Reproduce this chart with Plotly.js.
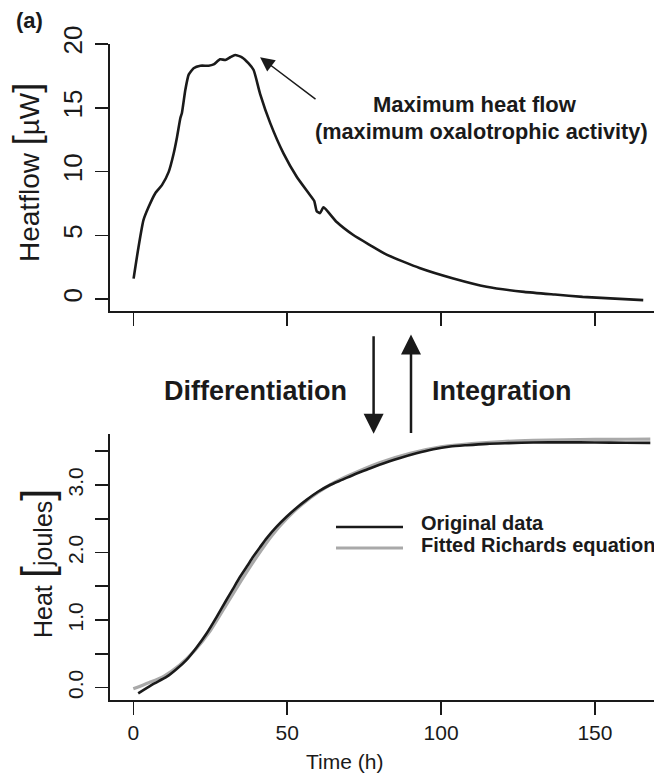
<!DOCTYPE html>
<html>
<head>
<meta charset="utf-8">
<script src="https://cdn.plot.ly/plotly-3.0.1.min.js"></script>
<style>
  html, body { margin: 0; padding: 0; background: #ffffff; }
  #chart { width: 654px; height: 774px; }
</style>
</head>
<body>
<div id="chart"></div>
<script>
// ---- Data ----
// Top panel: heat flow (µW) vs time (h)
const timeHeatflow = [0.1, 1.7, 3.3, 5.0, 7.1, 9.3, 11.5, 13.1, 14.2, 15.3, 15.8, 16.9, 18.0, 19.6, 21.8, 24.5, 26.1, 28.2, 29.9, 31.5, 33.1, 35.3, 37.4, 39.1, 41.2, 44.5, 48.8, 53.1, 57.0, 58.8, 59.6, 60.7, 61.8, 66.1, 71.5, 76.9, 82.3, 93, 104, 114.8, 127, 137, 146, 155, 165.7];
const heatflow     = [1.62, 4.1, 6.2, 7.24, 8.29, 8.94, 9.98, 11.4, 12.7, 14.2, 14.6, 16.4, 17.6, 18.1, 18.3, 18.3, 18.4, 18.8, 18.75, 18.96, 19.14, 18.96, 18.5, 17.96, 16.1, 13.8, 11.43, 9.6, 8.3, 7.7, 6.9, 6.75, 7.2, 6.05, 5.03, 4.25, 3.5, 2.45, 1.63, 0.98, 0.58, 0.37, 0.19, 0.07, -0.07];

// Bottom panel: cumulative heat (J) vs time (h)
const timeOriginal = [1.6, 6.0, 10.9, 14.0, 17.3, 20.5, 23.8, 27.0, 30.3, 32.5, 34.7, 37.0, 39.0, 41.2, 43.3, 46.5, 49.8, 53.0, 56.3, 60.0, 63.9, 68, 72, 76, 80, 86.7, 92, 97.5, 103, 108.3, 115, 122, 130, 140, 150, 160, 168];
const heatOriginal = [-0.086, 0.04, 0.16, 0.27, 0.41, 0.59, 0.80, 1.04, 1.30, 1.47, 1.64, 1.80, 1.94, 2.08, 2.21, 2.38, 2.53, 2.66, 2.78, 2.90, 3.00, 3.08, 3.16, 3.23, 3.30, 3.40, 3.47, 3.53, 3.57, 3.59, 3.61, 3.62, 3.63, 3.632, 3.63, 3.627, 3.625];

const timeFitted = [0, 5, 10, 15, 20, 25, 30, 35, 40, 45, 50, 55, 60, 65, 70, 80, 90, 100, 110, 120, 130, 140, 150, 160, 168];
const heatFitted = [-0.02, 0.07, 0.17, 0.33, 0.55, 0.84, 1.21, 1.58, 1.93, 2.25, 2.51, 2.72, 2.89, 3.03, 3.14, 3.33, 3.47, 3.565, 3.615, 3.645, 3.66, 3.67, 3.675, 3.678, 3.68];

// Tick labels
const timeTicks = [0, 50, 100, 150];
const timeTickText = ['0', '50', '100', '150'];
const heatflowTicks = [0, 5, 10, 15, 20];
const heatflowTickText = ['0', '5', '10', '15', '20'];
const heatTicks = [0, 0.5, 1.0, 1.5, 2.0, 2.5, 3.0, 3.5];
const heatTickText = ['0.0', '', '1.0', '', '2.0', '', '3.0', ''];

const seriesNames = ['Original data', 'Fitted Richards equation'];

// ---- Styling ----
const FONT = 'Liberation Sans, Arial, Helvetica, sans-serif';
const INK = '#1a1a1a';
const GREY = '#a9a9a9';

const traces = [
  {
    x: timeHeatflow, y: heatflow, xaxis: 'x', yaxis: 'y',
    type: 'scatter', mode: 'lines', showlegend: false,
    line: { color: INK, width: 2.6, shape: 'spline', smoothing: 0.5 },
    hoverinfo: 'skip'
  },
  {
    x: timeFitted, y: heatFitted, xaxis: 'x2', yaxis: 'y2',
    type: 'scatter', mode: 'lines', name: seriesNames[1], showlegend: false,
    line: { color: GREY, width: 3.2, shape: 'spline', smoothing: 0.6 },
    hoverinfo: 'skip'
  },
  {
    x: timeOriginal, y: heatOriginal, xaxis: 'x2', yaxis: 'y2',
    type: 'scatter', mode: 'lines', name: seriesNames[0], showlegend: false,
    line: { color: INK, width: 2.6, shape: 'spline', smoothing: 0.6 },
    hoverinfo: 'skip'
  }
];

const axisCommon = {
  showline: true, linecolor: INK, linewidth: 1.6,
  ticks: 'outside', ticklen: 13, tickwidth: 1.6, tickcolor: INK,
  showgrid: false, zeroline: false, fixedrange: true,
  tickfont: { family: FONT, color: INK }
};

const PL = 110, PW = 544, PB = 700, PH = 656;
const px2x = p => (p - PL) / PW;
const px2y = p => (PB - p) / PH;

// Legend (drawn as key lines + labels inside the lower panel)
const legendKeys = [
  { name: seriesNames[0], color: INK, width: 2.6, lineY: 527, textY: 523 },
  { name: seriesNames[1], color: GREY, width: 3.2, lineY: 548, textY: 545 }
];
const legendShapes = legendKeys.map(k => ({
  type: 'line', xref: 'paper', yref: 'paper',
  x0: px2x(336), x1: px2x(403), y0: px2y(k.lineY), y1: px2y(k.lineY),
  line: { color: k.color, width: k.width }
}));
const legendLabels = legendKeys.map(k => ({
  text: '<b>' + k.name + '</b>', xref: 'paper', yref: 'paper',
  x: px2x(419), y: px2y(k.textY), xanchor: 'left', yanchor: 'middle', showarrow: false,
  font: { family: FONT, size: 20, color: INK }
}));

const layout = {
  width: 654, height: 774,
  margin: { l: 110, r: 0, t: 44, b: 74 },
  paper_bgcolor: '#ffffff', plot_bgcolor: '#ffffff',
  font: { family: FONT, color: INK },
  showlegend: false,
  xaxis: Object.assign({}, axisCommon, {
    domain: [0, 1], anchor: 'y', range: [-7.57, 169.2],
    tickmode: 'array', tickvals: timeTicks, ticktext: timeTickText,
    showticklabels: false
  }),
  yaxis: Object.assign({}, axisCommon, {
    domain: [0.593, 1], anchor: 'x', range: [-0.92, 20],
    tickmode: 'array', tickvals: heatflowTicks, ticktext: heatflowTickText,
    tickangle: -90, ticklabelstandoff: 3,
    tickfont: { family: FONT, color: INK, size: 26 }
  }),
  xaxis2: Object.assign({}, axisCommon, {
    domain: [0, 1], anchor: 'y2', range: [-7.57, 169.2],
    tickmode: 'array', tickvals: timeTicks, ticktext: timeTickText,
    tickfont: { family: FONT, color: INK, size: 21 }
  }),
  yaxis2: Object.assign({}, axisCommon, {
    domain: [0, 0.4055], anchor: 'x2', range: [-0.185, 3.756],
    tickmode: 'array', tickvals: heatTicks, ticktext: heatTickText,
    tickangle: -90, ticklabelstandoff: 4,
    tickfont: { family: FONT, color: INK, size: 21 }
  }),
  shapes: legendShapes,
  annotations: [
    { text: '<b>(a)</b>', xref: 'paper', yref: 'paper', x: px2x(29), y: px2y(21),
      xanchor: 'center', yanchor: 'middle', showarrow: false,
      font: { family: FONT, size: 22, color: INK } },
    // y-axis titles
    { text: 'Heatflow <span style="font-size:36px">[</span>µW<span style="font-size:36px">]</span>',
      xref: 'paper', yref: 'paper', x: px2x(26), y: px2y(173),
      xanchor: 'center', yanchor: 'middle', textangle: -90, showarrow: false,
      font: { family: FONT, size: 28, color: INK } },
    { text: 'Heat <span style="font-size:44px">[</span>joules<span style="font-size:44px">]</span>',
      xref: 'paper', yref: 'paper', x: px2x(36), y: px2y(563),
      xanchor: 'center', yanchor: 'middle', textangle: -90, showarrow: false,
      font: { family: FONT, size: 25, color: INK } },
    // x-axis title
    { text: 'Time (h)', xref: 'paper', yref: 'paper', x: px2x(344), y: px2y(761),
      xanchor: 'center', yanchor: 'middle', showarrow: false,
      font: { family: FONT, size: 21, color: INK } },
    // Peak annotation
    { text: '', xref: 'x', yref: 'y', x: 41.2, y: 18.96, axref: 'x', ayref: 'y', ax: 59.7, ay: 15.6,
      showarrow: true, arrowhead: 2, arrowsize: 1.9, arrowwidth: 1.5, arrowcolor: INK, standoff: 0 },
    { text: '<b>Maximum heat flow</b>', xref: 'x', yref: 'y', x: 111, y: 15.28,
      xanchor: 'center', yanchor: 'middle', showarrow: false,
      font: { family: FONT, size: 22, color: INK } },
    { text: '<b>(maximum oxalotrophic activity)</b>', xref: 'x', yref: 'y', x: 113.3, y: 13.17,
      xanchor: 'center', yanchor: 'middle', showarrow: false,
      font: { family: FONT, size: 21.7, color: INK } },
    // Middle arrows and labels
    { text: '<b>Differentiation</b>', xref: 'paper', yref: 'paper', x: px2x(255), y: px2y(391),
      xanchor: 'center', yanchor: 'middle', showarrow: false,
      font: { family: FONT, size: 27, color: INK } },
    { text: '<b>Integration</b>', xref: 'paper', yref: 'paper', x: px2x(502), y: px2y(391),
      xanchor: 'center', yanchor: 'middle', showarrow: false,
      font: { family: FONT, size: 27, color: INK } },
    { text: '', xref: 'paper', yref: 'paper', x: px2x(373.6), y: px2y(433.8), ax: 0, ay: -99,
      showarrow: true, arrowhead: 2, arrowsize: 1.6, arrowwidth: 2.5, arrowcolor: INK, standoff: 0 },
    { text: '', xref: 'paper', yref: 'paper', x: px2x(411), y: px2y(334.6), ax: 0, ay: 100,
      showarrow: true, arrowhead: 2, arrowsize: 1.6, arrowwidth: 2.5, arrowcolor: INK, standoff: 0 }
  ].concat(legendLabels)
};

Plotly.newPlot('chart', traces, layout, { displayModeBar: false, staticPlot: true });
</script>
</body>
</html>
